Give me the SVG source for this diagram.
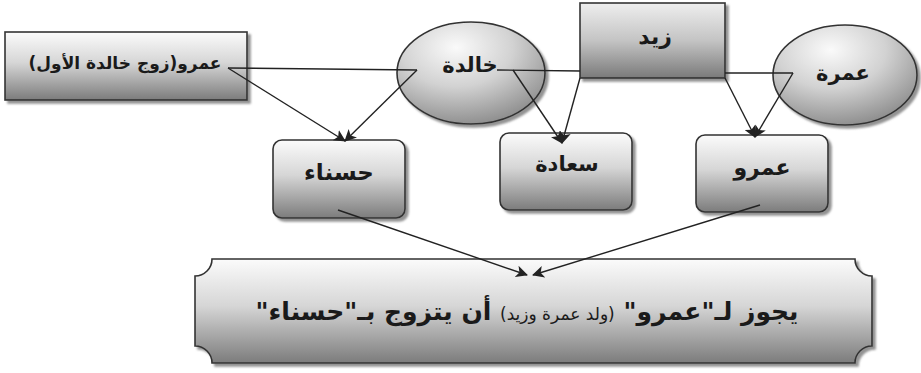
<svg xmlns="http://www.w3.org/2000/svg" width="921" height="373" viewBox="0 0 921 373">
<defs>
<linearGradient id="gv" x1="0" y1="0" x2="0" y2="1">
<stop offset="0" stop-color="#fbfbfb"/>
<stop offset="0.45" stop-color="#d6d6d6"/>
<stop offset="1" stop-color="#7c7c7c"/>
</linearGradient>
<linearGradient id="gz" x1="0" y1="0" x2="0" y2="1">
<stop offset="0" stop-color="#eeeeee"/>
<stop offset="0.5" stop-color="#c4c4c4"/>
<stop offset="1" stop-color="#7a7a7a"/>
</linearGradient>
<radialGradient id="ge" cx="0.4" cy="0.25" r="0.85">
<stop offset="0" stop-color="#fafafa"/>
<stop offset="0.45" stop-color="#d2d2d2"/>
<stop offset="1" stop-color="#808080"/>
</radialGradient>
<filter id="sh" x="-10%" y="-10%" width="125%" height="130%">
<feDropShadow dx="3" dy="3" stdDeviation="1.2" flood-color="#777" flood-opacity="0.8"/>
</filter>
<marker id="ar" viewBox="0 0 12 12" refX="11" refY="6" markerWidth="12" markerHeight="12" markerUnits="userSpaceOnUse" orient="auto">
<path d="M0,0 L12,6 L0,12 L3,6 Z" fill="#222"/>
</marker>
</defs>
<style>
.box{stroke:#333;stroke-width:1.6;filter:url(#sh)}
.t{font-family:"DejaVu Sans","Liberation Sans",sans-serif;font-weight:bold;fill:#1a1a1a;text-anchor:middle}
.c line,.c polyline{stroke:#222;stroke-width:1.4;fill:none}
.a{marker-end:url(#ar)}
</style>

<g id="n-amr-first">
<rect class="box" x="5" y="32" width="242" height="68" fill="url(#gv)"/>
<text class="t" x="125" y="69" font-size="17" direction="rtl">عمرو(زوج خالدة الأول)</text>
</g>

<g id="n-khalda">
<ellipse class="box" cx="471" cy="73" rx="74" ry="51" fill="url(#ge)"/>
<text class="t" x="470" y="72" font-size="21" direction="rtl">خالدة</text>
</g>

<g id="n-zaid">
<rect class="box" x="580" y="3" width="145" height="75" fill="url(#gz)"/>
<text class="t" x="655" y="44" font-size="22" direction="rtl">زيد</text>
</g>

<g id="n-amra">
<ellipse class="box" cx="845" cy="75" rx="72" ry="50" fill="url(#ge)"/>
<text class="t" x="843" y="80" font-size="21" direction="rtl">عمرة</text>
</g>

<g id="n-hasna">
<rect class="box" x="273" y="140" width="132" height="78" rx="9" fill="url(#gv)"/>
<text class="t" x="339" y="180" font-size="23" direction="rtl">حسناء</text>
</g>

<g id="n-saada">
<rect class="box" x="500" y="133" width="132" height="77" rx="9" fill="url(#gv)"/>
<text class="t" x="567" y="171" font-size="21" direction="rtl">سعادة</text>
</g>

<g id="n-amr">
<rect class="box" x="696" y="135" width="132" height="77" rx="9" fill="url(#gv)"/>
<text class="t" x="762" y="175" font-size="22" direction="rtl">عمرو</text>
</g>

<g id="n-result">
<path class="box" fill="url(#gv)" d="M212,259 L855,259 A17,17 0 0 0 872,276 L872,346 A17,17 0 0 0 855,363 L212,363 A17,17 0 0 0 195,346 L195,276 A17,17 0 0 0 212,259 Z"/>
<text class="t" x="527" y="320" font-size="25" direction="rtl">يجوز لـ"عمرو" <tspan font-weight="normal" font-size="17">(ولد عمرة وزيد)</tspan> أن يتزوج بـ"حسناء"</text>
</g>

<g id="connectors" class="c">
<line x1="228" y1="68" x2="417" y2="70"/>
<line x1="497" y1="70" x2="580" y2="71"/>
<line x1="725" y1="73" x2="793" y2="73"/>
<line class="a" x1="228" y1="68" x2="345" y2="141"/>
<line class="a" x1="417" y1="70" x2="345" y2="141"/>
<line class="a" x1="513" y1="70" x2="562" y2="143"/>
<line class="a" x1="580" y1="78" x2="562" y2="143"/>
<line class="a" x1="725" y1="78" x2="755" y2="137"/>
<line class="a" x1="793" y1="73" x2="755" y2="137"/>
<line class="a" x1="338" y1="210" x2="527" y2="275"/>
<line class="a" x1="760" y1="205" x2="533" y2="275"/>
</g>
</svg>
